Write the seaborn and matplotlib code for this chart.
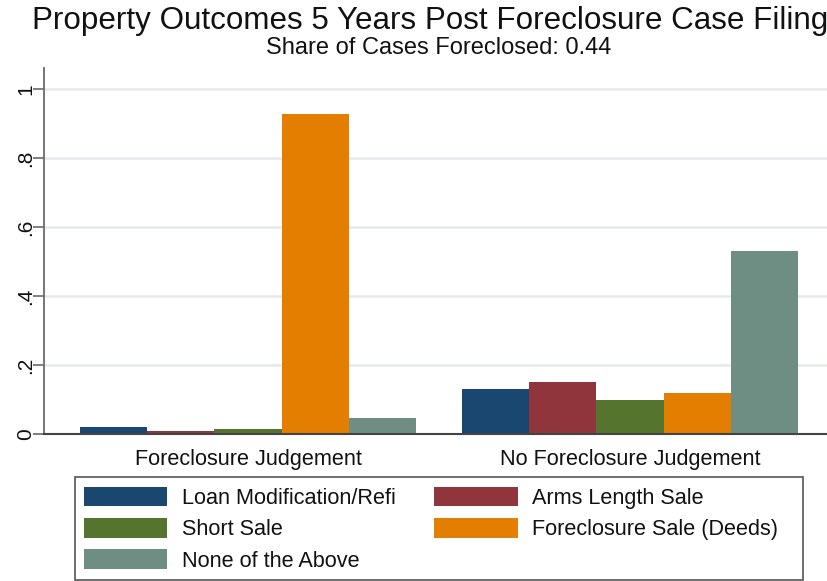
import matplotlib
matplotlib.use("Agg")
import matplotlib.pyplot as plt
import seaborn as sns
import pandas as pd
from matplotlib.patches import Patch, Rectangle

judgements = ["Foreclosure Judgement", "No Foreclosure Judgement"]
outcomes = ["Loan Modification/Refi", "Arms Length Sale", "Short Sale",
            "Foreclosure Sale (Deeds)", "None of the Above"]
judgement_vals = [0.019, 0.010, 0.014, 0.928, 0.047]
no_judgement_vals = [0.130, 0.152, 0.098, 0.119, 0.531]
colors = ["#1a476f", "#90353b", "#55752f", "#e37e00", "#6e8e84"]
yticks = [0, 0.2, 0.4, 0.6, 0.8, 1.0]
ytick_labels = ["0", ".2", ".4", ".6", ".8", "1"]

rows = []
for grp, vals in zip(judgements, [judgement_vals, no_judgement_vals]):
    for o, v in zip(outcomes, vals):
        rows.append({"group": grp, "outcome": o, "share": v})
df = pd.DataFrame(rows)

sns.set_theme(style="white")
plt.rcParams["font.family"] = ["Liberation Sans", "DejaVu Sans"]

W, H = 828, 581
fig = plt.figure(figsize=(W / 100, H / 100), dpi=100)
ax = fig.add_axes([44 / W, 1 - 434 / H, (W - 44) / W, (434 - 68) / H])

sns.barplot(data=df, x="group", y="share", hue="outcome", hue_order=outcomes,
            palette=colors, width=0.88, saturation=1, ax=ax, legend=False,
            linewidth=0)

ax.set_xlim(-0.534, 1.518)
ax.set_ylim(0, (434 - 68) / 345)
ax.set_yticks(yticks)
ax.set_yticklabels(ytick_labels, rotation=90, va="center", fontsize=15)
ax.set_xticks([0, 1])
ax.set_xticklabels(judgements, fontsize=15.6)
ax.set_xlabel("")
ax.set_ylabel("")
ax.yaxis.grid(True, color="#e6e9ea", linewidth=1.8)
ax.set_axisbelow(True)
for s in ["top", "right"]:
    ax.spines[s].set_visible(False)
ax.spines["left"].set_color("#6a6a6a")
ax.spines["bottom"].set_color("#444444")
ax.spines["left"].set_linewidth(1.3)
ax.spines["bottom"].set_linewidth(1.5)
ax.tick_params(axis="y", which="both", left=True, length=8, width=1.2,
               color="#6a6a6a", pad=-1.5, labelcolor="#111111")
ax.tick_params(axis="x", length=0, pad=11, labelcolor="#111111")

fig.text(430 / W, 1 - 21 / H, "Property Outcomes 5 Years Post Foreclosure Case Filing",
         ha="center", va="center", fontsize=22.6, color="#111111")
fig.text(439 / W, 1 - 48 / H, "Share of Cases Foreclosed: 0.44",
         ha="center", va="center", fontsize=17, color="#111111")

# legend: two columns, row-major order, inside a plain rectangular frame
order = [0, 2, 4, 1, 3]
handles = [Patch(facecolor=colors[i], edgecolor="none") for i in order]
labels = [outcomes[i] for i in order]
leg = fig.legend(handles, labels, ncol=2, loc="upper left",
                 bbox_to_anchor=(84 / W, 1 - 487 / H),
                 fontsize=15.6, frameon=False, handlelength=3.85,
                 handleheight=1.0, handletextpad=0.65, labelspacing=0.42,
                 borderpad=0, borderaxespad=0, columnspacing=1.8)
for t in leg.get_texts():
    t.set_color("#111111")
fig.patches.append(Rectangle((75 / W, 1 - 580 / H), (803 - 75) / W, (580 - 477) / H,
                             transform=fig.transFigure, fill=False,
                             edgecolor="#555555", linewidth=1.2))

fig.savefig("out.png", dpi=100)
